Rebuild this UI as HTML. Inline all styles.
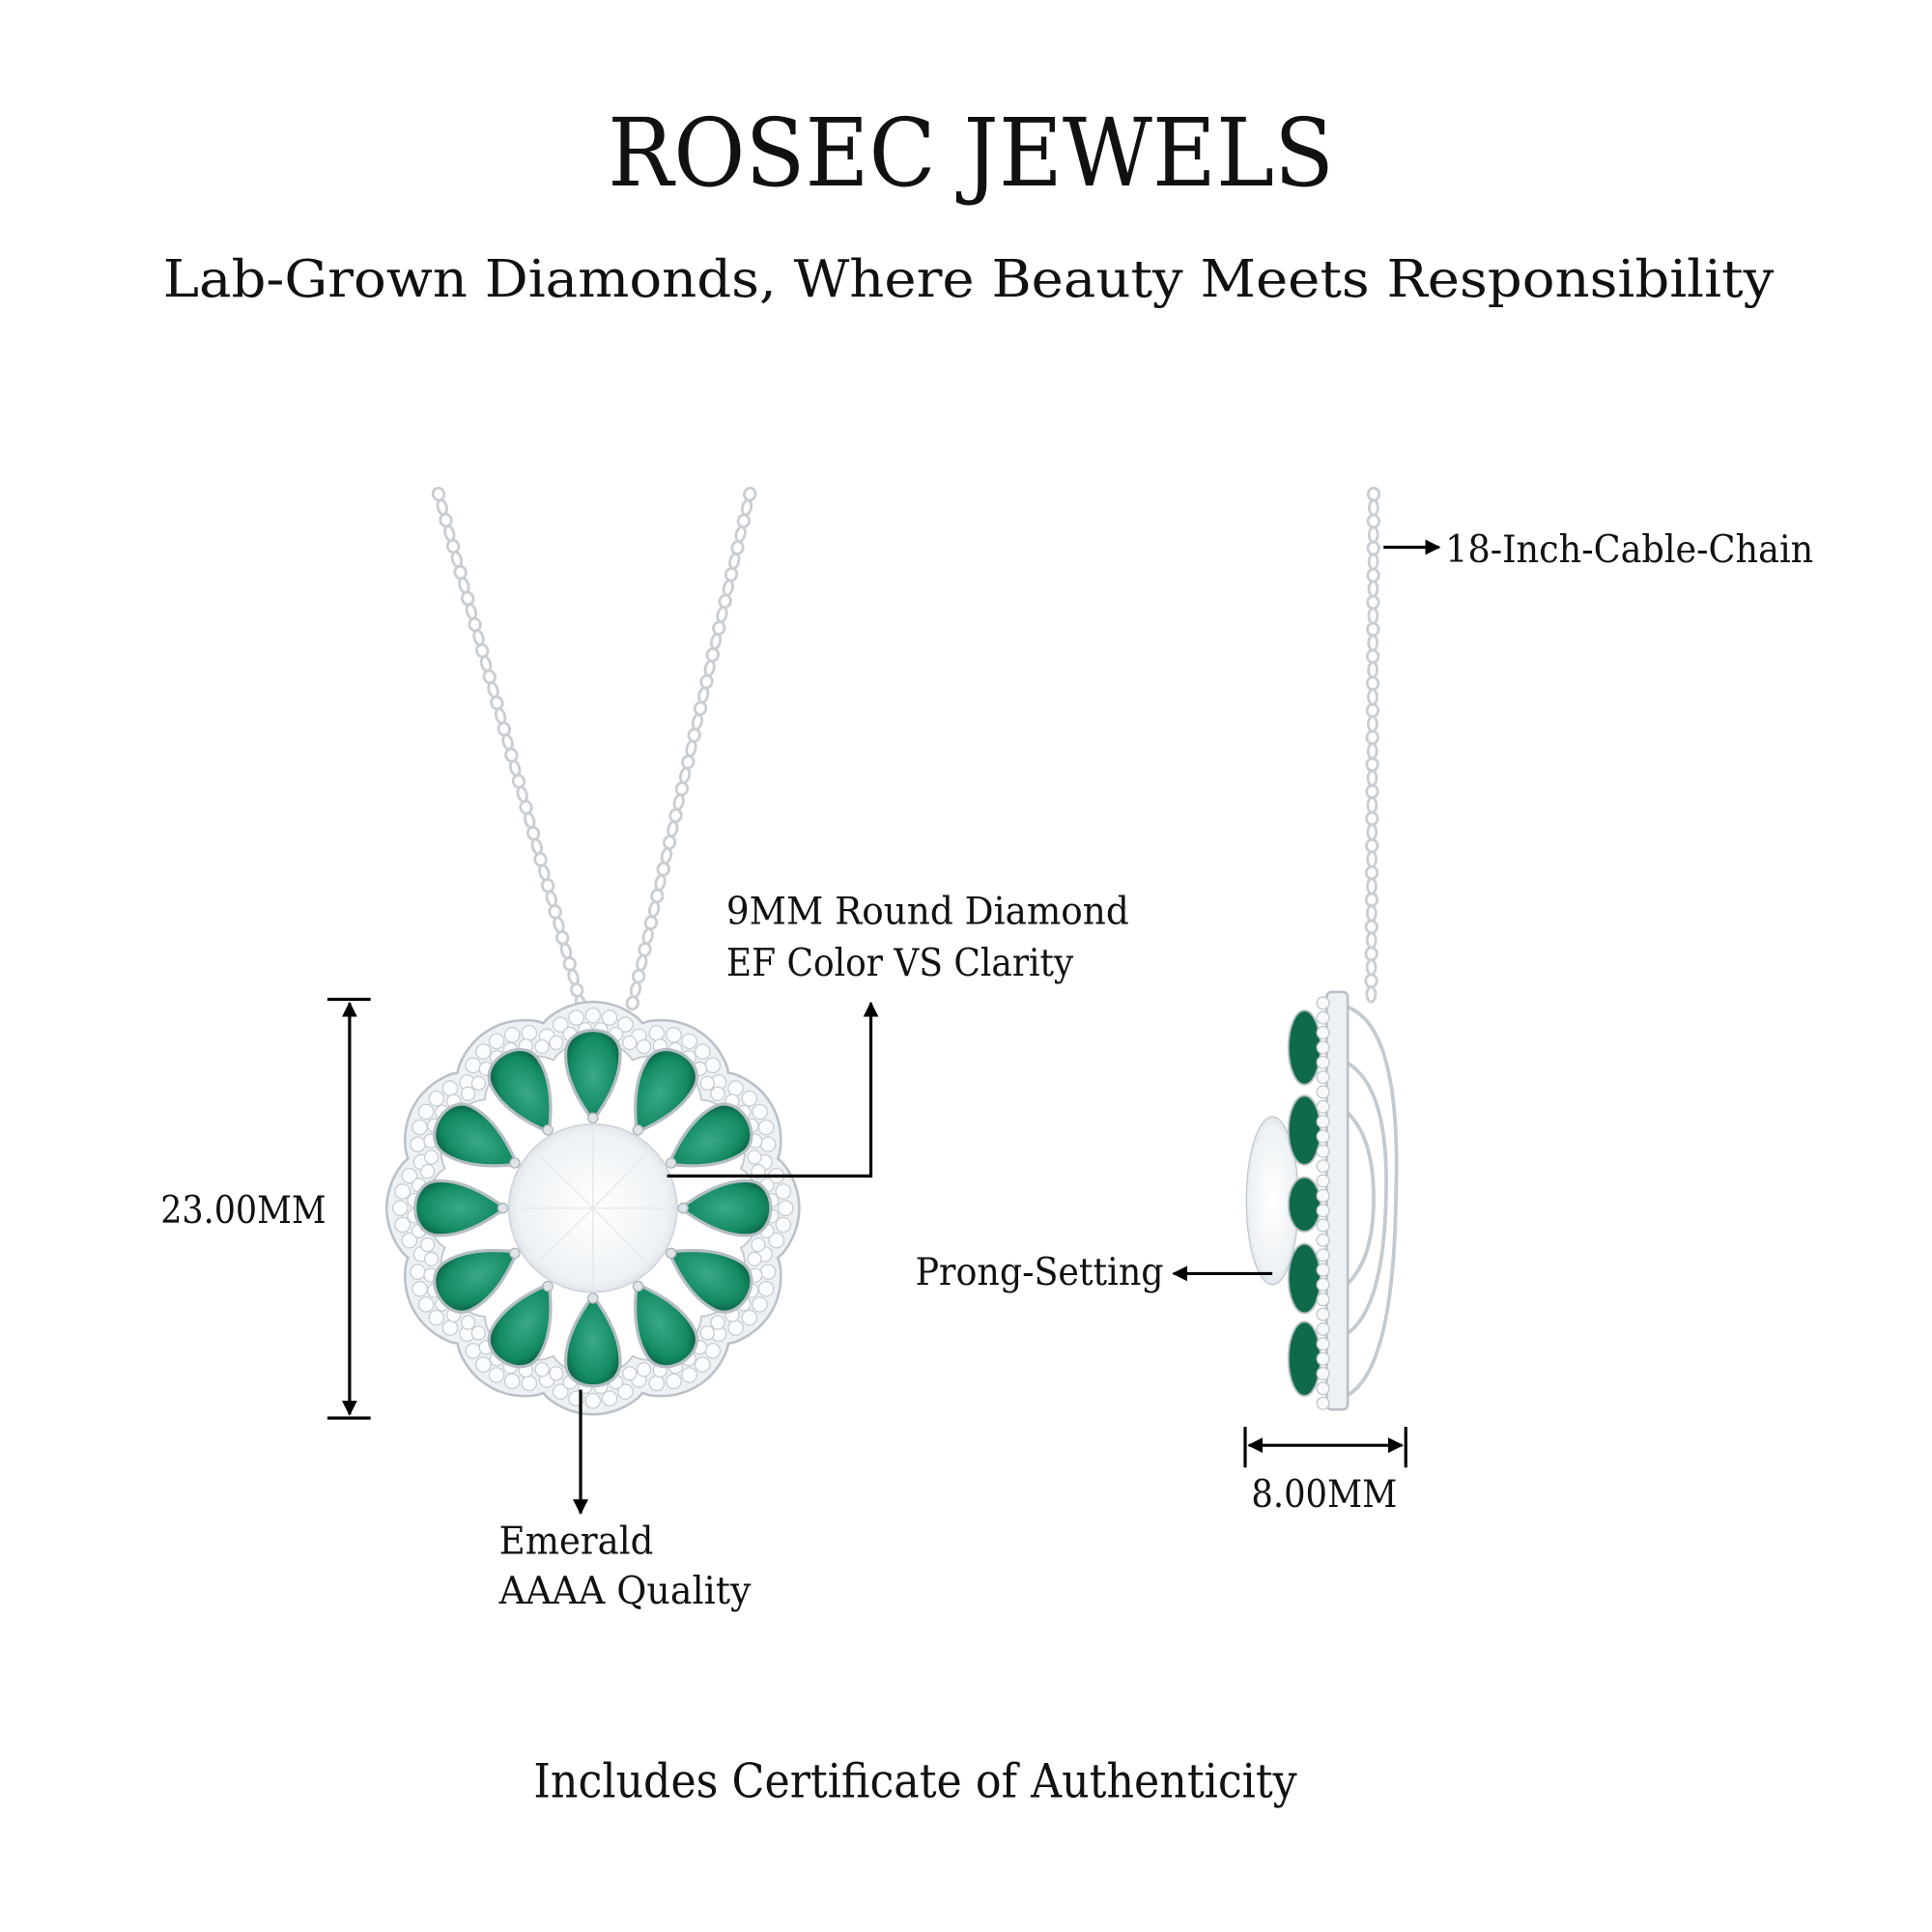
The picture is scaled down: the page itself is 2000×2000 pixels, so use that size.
<!DOCTYPE html>
<html><head><meta charset="utf-8"><style>
html,body{margin:0;padding:0;background:#fff;}
svg{display:block;}
text{font-family:"DejaVu Serif","Liberation Serif",serif;fill:#111;}
</style></head><body>
<svg id="s" width="2000" height="2000" viewBox="0 0 1564 1564" xmlns="http://www.w3.org/2000/svg">
<defs>
<marker id="ah" viewBox="0 0 10 10" refX="9" refY="5" markerWidth="5" markerHeight="5" orient="auto-start-reverse"><path d="M0,0L10,5L0,10z" fill="#000"/></marker>
<radialGradient id="em" cx="50%" cy="50%" r="60%"><stop offset="0" stop-color="#3aa98a"/><stop offset="0.7" stop-color="#138a63"/><stop offset="1" stop-color="#0a5a3e"/></radialGradient>
<radialGradient id="dia" cx="50%" cy="50%" r="55%"><stop offset="0" stop-color="#fff"/><stop offset="0.8" stop-color="#eef2f5"/><stop offset="1" stop-color="#d5dde3"/></radialGradient>
</defs>
<text x="786" y="150" font-size="76" text-anchor="middle" textLength="588" lengthAdjust="spacingAndGlyphs">ROSEC JEWELS</text>
<text x="784" y="240" font-size="42" text-anchor="middle" textLength="1304" lengthAdjust="spacingAndGlyphs">Lab-Grown Diamonds, Where Beauty Meets Responsibility</text>
<g id="chains" fill="none" stroke="#c9ced3" stroke-width="2.2"></g>
<g id="pend"></g>
<g>
<g fill="none" stroke="#c3cad0" stroke-width="3">
<path d="M1090,815 Q1135,830 1130,970 Q1128,1110 1090,1130"/>
<path d="M1090,860 Q1125,880 1122,970 Q1120,1060 1090,1080"/>
<path d="M1090,900 Q1112,920 1112,970 Q1112,1020 1090,1040"/>
</g>
<rect x="1074" y="803" width="17" height="338" rx="4" fill="#eef1f4" stroke="#b8bfc6" stroke-width="2"/>
<ellipse cx="1030" cy="972" rx="21" ry="68" fill="url(#dia)" stroke="#c0c8cf"/>
<g id="side"></g>
</g>
<g stroke="#000" stroke-width="2.5" fill="none">
<line x1="265" y1="809" x2="300" y2="809"/><line x1="265" y1="1148" x2="300" y2="1148"/>
<line x1="283" y1="812" x2="283" y2="1145" marker-start="url(#ah)" marker-end="url(#ah)"/>
<polyline points="540,952 705,952 705,812" marker-end="url(#ah)"/>
<line x1="470" y1="1125" x2="470" y2="1225" marker-end="url(#ah)"/>
<line x1="1120" y1="443" x2="1165" y2="443" marker-end="url(#ah)"/>
<line x1="1030" y1="1031" x2="950" y2="1031" marker-end="url(#ah)"/>
<line x1="1008" y1="1155" x2="1008" y2="1188"/><line x1="1138" y1="1155" x2="1138" y2="1188"/>
<line x1="1011" y1="1170" x2="1135" y2="1170" marker-start="url(#ah)" marker-end="url(#ah)"/>
</g>
<g font-size="31">
<text x="130" y="990" textLength="134" lengthAdjust="spacingAndGlyphs">23.00MM</text>
<text x="588" y="748" textLength="326" lengthAdjust="spacingAndGlyphs">9MM Round Diamond</text>
<text x="588" y="790" textLength="281" lengthAdjust="spacingAndGlyphs">EF Color VS Clarity</text>
<text x="404" y="1258" textLength="125" lengthAdjust="spacingAndGlyphs">Emerald</text>
<text x="404" y="1298" textLength="204" lengthAdjust="spacingAndGlyphs">AAAA Quality</text>
<text x="1170" y="455" textLength="298" lengthAdjust="spacingAndGlyphs">18-Inch-Cable-Chain</text>
<text x="741" y="1040" textLength="201" lengthAdjust="spacingAndGlyphs">Prong-Setting</text>
<text x="1013" y="1220" textLength="118" lengthAdjust="spacingAndGlyphs">8.00MM</text>
</g>
<text x="741" y="1455" font-size="38" text-anchor="middle" textLength="618" lengthAdjust="spacingAndGlyphs">Includes Certificate of Authenticity</text>
</svg>
<script>
(function(){
var NS="http://www.w3.org/2000/svg";
function el(p,t,a){var e=document.createElementNS(NS,t);for(var k in a)e.setAttribute(k,a[k]);p.appendChild(e);return e;}
var ch=document.getElementById('chains');
function chain(x1,y1,x2,y2){var n=Math.round(Math.hypot(x2-x1,y2-y1)/11);var ang=Math.atan2(y2-y1,x2-x1)*180/Math.PI;
for(var i=0;i<=n;i++){var x=x1+(x2-x1)*i/n,y=y1+(y2-y1)*i/n;el(ch,'ellipse',{cx:x,cy:y,rx:i%2?6:5,ry:i%2?3.5:4.5,transform:'rotate('+ang+' '+x+' '+y+')'});}}
chain(355,400,470,812);chain(607,400,512,812);chain(1112,400,1110,805);
var g=document.getElementById('pend');var cx=480,cy=978;
function rad(a,base){return base+12*Math.pow(Math.abs(Math.cos(a*6)),0.8);}
function poly(base){var q=[];for(var i=0;i<360;i+=1.5){var a=i*Math.PI/180;var rr=rad(a,base);q.push((cx+rr*Math.sin(a)).toFixed(1)+','+(cy-rr*Math.cos(a)).toFixed(1));}return q.join(' ');}
el(g,'polygon',{points:poly(155),fill:'#eef1f4',stroke:'#b9c1c8','stroke-width':2});
for(var i=0;i<72;i++){var a=i*5*Math.PI/180;var rr=rad(a,144);el(g,'circle',{cx:cx+rr*Math.sin(a),cy:cy-rr*Math.cos(a),r:6,fill:'#fbfcfd',stroke:'#c5ccd2','stroke-width':1});}
for(var i=0;i<72;i++){var a=(i*5+2.5)*Math.PI/180;var rr=rad(a,133);el(g,'circle',{cx:cx+rr*Math.sin(a),cy:cy-rr*Math.cos(a),r:5.5,fill:'#fbfcfd',stroke:'#c5ccd2','stroke-width':1});}
el(g,'polygon',{points:poly(124),fill:'#fff',stroke:'#c2c9cf','stroke-width':1.5});
for(var i=0;i<12;i++){var ang=i*30;var t=el(g,'g',{transform:'rotate('+ang+' '+cx+' '+cy+')'});
var pY=cy-71, topY=cy-148;
el(t,'path',{d:'M'+cx+','+pY+' C'+(cx-12)+','+(pY-16)+' '+(cx-23)+','+(pY-36)+' '+(cx-22)+','+(topY+22)+' C'+(cx-21)+','+(topY-2)+' '+(cx+21)+','+(topY-2)+' '+(cx+22)+','+(topY+22)+' C'+(cx+23)+','+(pY-36)+' '+(cx+12)+','+(pY-16)+' '+cx+','+pY+'Z',fill:'url(#em)',stroke:'#b5bdc4','stroke-width':2.5});
el(t,'circle',{cx:cx,cy:pY-2,r:4,fill:'#dfe4e8',stroke:'#a9b1b8'});}
el(g,'circle',{cx:cx,cy:cy,r:68,fill:'url(#dia)',stroke:'#d0d7dd','stroke-width':1.5});
for(var i=0;i<8;i++){var a=i*45*Math.PI/180;el(g,'line',{x1:cx,y1:cy,x2:cx+66*Math.cos(a),y2:cy+66*Math.sin(a),stroke:'#e4e9ed','stroke-width':1.2});}
var s=document.getElementById('side');
[[848,30],[915,28],[975,22],[1035,28],[1100,30]].forEach(function(v){el(s,'ellipse',{cx:1056,cy:v[0],rx:13,ry:v[1],fill:'#0e6a49',stroke:'#b5bdc4','stroke-width':1.5});});
for(var y=812;y<1140;y+=12){el(s,'circle',{cx:1071,cy:y,r:5,fill:'#f6f8f9',stroke:'#bfc6cc'});}
})();
</script>
</body></html>
